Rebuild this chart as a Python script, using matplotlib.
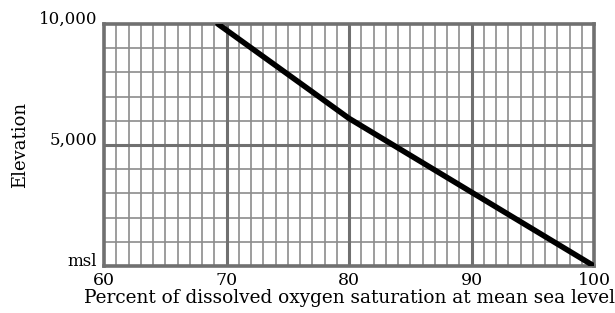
import matplotlib
matplotlib.use("Agg")
import matplotlib.pyplot as plt
import numpy as np

# Data
percent = [69.3, 76.8, 80.0, 90.0, 100.0]
elevation = [10000, 7270, 6100, 3050, 0]
yticks = [0, 5000, 10000]
yticklabels = ["msl", "5,000", "10,000"]
xticks = [60, 70, 80, 90, 100]

plt.rcParams['font.family'] = ['DejaVu Serif']

fig = plt.figure(figsize=(6.15, 3.13), dpi=100)
ax = fig.add_axes([104/615, 1-266/313, (594-104)/615, (266-24)/313])

ax.set_xlim(60, 100)
ax.set_ylim(0, 10000)

# minor grid
for x in range(61, 100):
    if x % 10:
        ax.axvline(x, color='#8c8c8c', lw=1.2, zorder=1)
for y in range(1000, 10000, 1000):
    if y % 5000:
        ax.axhline(y, color='#8c8c8c', lw=1.2, zorder=1)
# major grid
for x in [70, 80, 90]:
    ax.axvline(x, color='#707070', lw=2.2, zorder=2)
ax.axhline(5000, color='#707070', lw=2.2, zorder=2)

for s in ax.spines.values():
    s.set_color('#707070')
    s.set_linewidth(2.6)
    s.set_zorder(3)

ax.plot(percent, elevation, color='black', lw=4, solid_capstyle='round', zorder=5)

ax.set_xticks(xticks)
ax.set_xticklabels([str(v) for v in xticks], fontsize=12.5)
ax.set_yticks(yticks)
ax.set_yticklabels(yticklabels, fontsize=12)
for t in ax.get_yticklabels():
    t.set_va('baseline')
ax.tick_params(length=0)
ax.tick_params(axis='y', pad=5)
ax.tick_params(axis='x', pad=4)

ax.set_xlabel("Percent of dissolved oxygen saturation at mean sea level", fontsize=13.3, labelpad=0)
ax.set_ylabel("Elevation", fontsize=13, labelpad=7)

fig.savefig("out.png", dpi=100)
